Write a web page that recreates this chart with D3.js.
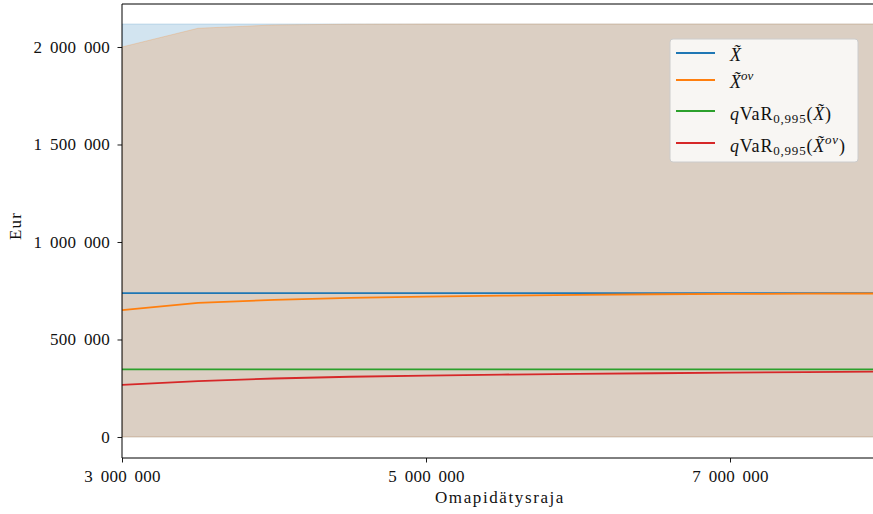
<!DOCTYPE html>
<html><head><meta charset="utf-8">
<script src="https://cdn.jsdelivr.net/npm/d3@7"></script>
<style>
html,body{margin:0;padding:0;background:#fff;overflow:hidden;}
text{font-family:"Liberation Serif","DejaVu Serif",serif;fill:#111;}
</style></head>
<body>
<svg id="chart" width="873" height="514"></svg>
<script>
// ---- data ----
const limits = [3000000,3500000,4000000,4500000,5000000,5500000,6000000,6500000,7000000,7500000,8000000];
const meanX   = [738000,738000,738000,738000,738000,738000,738000,738000,738000,738000,738000];
const meanXov = [651000,688000,703000,713000,720000,725000,729000,732000,734000,735000,736000];
const varX    = [347000,347000,347000,347000,347000,347000,347000,347000,347000,347000,347000];
const varXov  = [267000,287000,300000,309000,315000,320000,324000,327000,330000,333000,335000];
const bandX   = [2118000,2118000,2118000,2118000,2118000,2118000,2118000,2118000,2118000,2118000,2118000];
const bandXov = [2000000,2096000,2113000,2117000,2118000,2118000,2118000,2118000,2118000,2118000,2118000];
const xTicks = [3000000,5000000,7000000];
const yTicks = [0,500000,1000000,1500000,2000000];
const colors = ["#1f77b4","#ff7f0e","#2ca02c","#d62728"];

const svg = d3.select("#chart");
const L=122, R=882, T=4, B=458;
const x = d3.scaleLinear().domain([3000000,8000000]).range([L,R]);
const y = d3.scaleLinear().domain([-107700,2220500]).range([B,T]);
const fmt = v => d3.format(",")(v).replace(/,/g,"\u00a0");

svg.append("defs").append("clipPath").attr("id","pc")
  .append("rect").attr("x",L).attr("y",T).attr("width",R-L).attr("height",B-T);
const plot = svg.append("g").attr("clip-path","url(#pc)");

const area = arr => d3.area().x((d,i)=>x(limits[i])).y0(y(0)).y1((d,i)=>y(arr[i]));
plot.append("path").datum(bandX).attr("d",area(bandX))
  .attr("fill",colors[0]).attr("fill-opacity",0.2).attr("stroke",colors[0]).attr("stroke-opacity",0.2);
plot.append("path").datum(bandXov).attr("d",area(bandXov))
  .attr("fill",colors[1]).attr("fill-opacity",0.2).attr("stroke",colors[1]).attr("stroke-opacity",0.2);

const line = arr => d3.line().x((d,i)=>x(limits[i])).y((d,i)=>y(arr[i]));
[meanX,meanXov,varX,varXov].forEach((arr,k)=>{
  plot.append("path").datum(arr).attr("d",line(arr)).attr("fill","none")
    .attr("stroke",colors[k]).attr("stroke-width",1.8);
});

// axes
const xa = svg.append("g").attr("transform",`translate(0,${B})`)
  .call(d3.axisBottom(x).tickValues(xTicks).tickSize(4.5).tickPadding(7).tickFormat(fmt));
const ya = svg.append("g").attr("transform",`translate(${L},0)`)
  .call(d3.axisLeft(y).tickValues(yTicks).tickSize(4.5).tickPadding(7.5).tickFormat(fmt));
[xa,ya].forEach(a=>{
  a.select(".domain").remove();
  a.selectAll(".tick line").attr("stroke","#000").attr("stroke-width",0.9);
  a.selectAll(".tick text").attr("font-size",17).attr("word-spacing",3.3).attr("letter-spacing",0.2).attr("fill","#111")
    .style("font-family",'"Liberation Serif",serif');
});
// spines
[[L,T,L,B],[L,B,R,B],[L,T,R,T],[R,T,R,B]].forEach(s=>{
  svg.append("line").attr("x1",s[0]).attr("y1",s[1]).attr("x2",s[2]).attr("y2",s[3]).attr("stroke","#000").attr("stroke-width",1);
});

// axis labels
svg.append("text").attr("x",(L+R)/2-2).attr("y",503).attr("text-anchor","middle").attr("font-size",17)
  .attr("letter-spacing",1.6).text("Omapidätysraja");
svg.append("text").attr("transform","translate(21,226) rotate(-90)").attr("text-anchor","middle").attr("font-size",17)
  .attr("letter-spacing",1.2).text("Eur");

// legend
const lg = svg.append("g");
lg.append("rect").attr("x",670).attr("y",39).attr("width",188).attr("height",123).attr("rx",3)
  .attr("fill","#fff").attr("fill-opacity",0.8).attr("stroke","#ccc").attr("stroke-width",1);
const rows = [53,80,111,143];
rows.forEach((ry,k)=>{
  lg.append("line").attr("x1",676).attr("x2",715).attr("y1",ry).attr("y2",ry).attr("stroke",colors[k]).attr("stroke-width",1.8);
});
function addX(t){ t.append("tspan").attr("font-style","italic").text("X\u0303"); }
function addQ(t){
  t.append("tspan").attr("font-style","italic").text("q");
  t.append("tspan").text("VaR");
  t.append("tspan").attr("font-size",13).attr("dy",3.5).text("0,995");
  t.append("tspan").attr("dy",-3.5).text("(");
}
function sup(t){ t.append("tspan").attr("font-style","italic").attr("font-size",13).attr("dy",-7.5).text("ov"); }
let t;
t = lg.append("text").attr("x",730).attr("y",rows[0]+8).attr("font-size",18); addX(t);
t = lg.append("text").attr("x",730).attr("y",rows[1]+7.5).attr("font-size",18); addX(t); sup(t);
t = lg.append("text").attr("x",730).attr("y",rows[2]+8.5).attr("font-size",18).attr("letter-spacing",0.8);
addQ(t); addX(t); t.append("tspan").text(")");
t = lg.append("text").attr("x",730).attr("y",rows[3]+8.5).attr("font-size",18).attr("letter-spacing",0.8);
addQ(t); addX(t); sup(t); t.append("tspan").attr("dy",7.5).text(")");
</script>
</body></html>
